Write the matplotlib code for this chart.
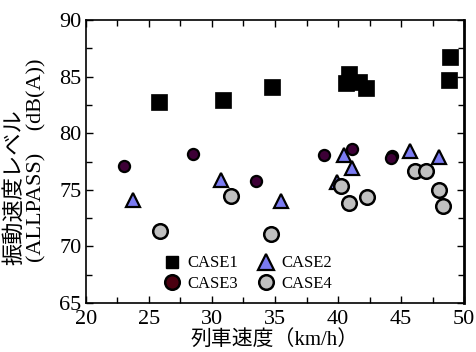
import matplotlib
matplotlib.use("Agg")
import matplotlib.pyplot as plt
from matplotlib.lines import Line2D

plt.rcParams['font.family'] = ['Liberation Serif', 'Noto Sans CJK JP']
plt.rcParams['mathtext.fontset'] = 'stix'

# Data
case1_x = [25.8, 30.9, 34.8, 40.6, 40.9, 41.7, 42.2, 48.8, 48.9]
case1_y = [82.8, 82.9, 84.1, 84.4, 85.2, 84.5, 84.0, 84.7, 86.7]

case2_x = [23.7, 30.7, 35.5, 39.9, 40.5, 41.1, 45.7, 48.0]
case2_y = [74.1, 75.9, 74.0, 75.7, 78.1, 76.9, 78.4, 77.9]

case3_x = [23.0, 28.5, 33.5, 38.9, 41.1, 44.3, 44.2]
case3_y = [77.1, 78.2, 75.8, 78.1, 78.6, 78.0, 77.8]

case4_x = [25.9, 31.5, 34.7, 40.2, 40.9, 42.3, 46.1, 47.0, 48.0, 48.3]
case4_y = [71.4, 74.5, 71.1, 75.3, 73.8, 74.4, 76.7, 76.7, 75.0, 73.6]

labels = ['CASE1', 'CASE2', 'CASE3', 'CASE4']

# Colors
c3_plot = '#3d0036'
c3_leg = '#4a0010'
c2 = '#7b7bf2'
c4 = '#c0c0c0'

fig = plt.figure(figsize=(4.77, 3.52), dpi=100)
ax = fig.add_axes([0.180, 0.139, 0.793, 0.804])

ax.plot(case1_x, case1_y, ls='none', marker='s', ms=11.5, mfc='black', mec='black', mew=0.5, zorder=3)
ax.plot(case2_x, case2_y, ls='none', marker='^', ms=10.5, mfc=c2, mec='black', mew=1.6, zorder=3)
ax.plot(case3_x, case3_y, ls='none', marker='o', ms=8.0, mfc=c3_plot, mec='black', mew=1.6, zorder=3)
ax.plot(case4_x, case4_y, ls='none', marker='o', ms=10.5, mfc=c4, mec='black', mew=1.8, zorder=3)

ax.set_xlim(20, 50)
ax.set_ylim(65, 90)
ax.set_xticks([20, 25, 30, 35, 40, 45, 50])
ax.set_yticks([65, 70, 75, 80, 85, 90])
ax.set_xticks([22.5, 27.5, 32.5, 37.5, 42.5, 47.5], minor=True)
ax.set_yticks([67.5, 72.5, 77.5, 82.5, 87.5], minor=True)
ax.tick_params(which='both', direction='in', top=True, right=True, width=1.0, labelsize=16)
ax.tick_params(which='major', length=5)
ax.tick_params(which='minor', length=4)
ax.tick_params(axis='x', pad=5)
ax.tick_params(axis='y', pad=3)
for s in ax.spines.values():
    s.set_linewidth(1.2)
ax.spines['right'].set_linewidth(2.0)

# legend with proxy handles (legend markers differ in size from plot markers)
h1 = Line2D([], [], ls='none', marker='s', ms=9, mfc='black', mec='black')
h2 = Line2D([], [], ls='none', marker='^', ms=11, mfc=c2, mec='black', mew=1.6)
h3 = Line2D([], [], ls='none', marker='o', ms=10.5, mfc=c3_leg, mec='black', mew=1.8)
h4 = Line2D([], [], ls='none', marker='o', ms=10.5, mfc=c4, mec='black', mew=1.8)
ax.legend([h1, h3, h2, h4], [labels[0], labels[2], labels[1], labels[3]],
          ncol=2, frameon=False, fontsize=12, loc='lower left',
          bbox_to_anchor=(0.18, 0.005), handlelength=1.0, handletextpad=0.4,
          columnspacing=1.2, labelspacing=0.25, borderaxespad=0.2)

ax.set_xlabel('列車速度（km/h）', fontsize=15, labelpad=1)

fig.text(0.031, 0.247, '振動速度レベル', rotation=90, ha='center', va='bottom', fontsize=16)
fig.text(0.078, 0.255, '(ALLPASS)    (dB(A))', rotation=90, ha='center', va='bottom', fontsize=16)

fig.savefig('out.png', dpi=100)
